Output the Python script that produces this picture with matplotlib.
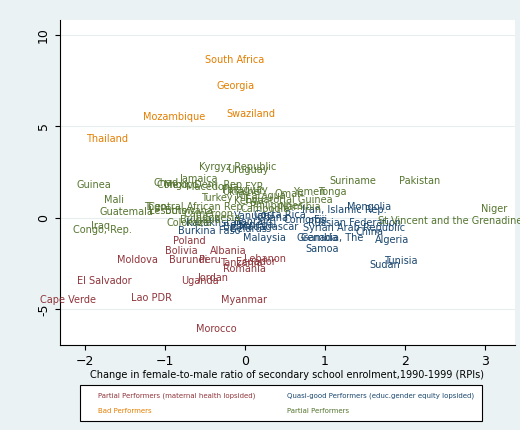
import matplotlib
matplotlib.use("Agg")
import matplotlib.pyplot as plt
from matplotlib.patches import Rectangle

bad_names = ["South Africa", "Georgia", "Swaziland", "Mozambique", "Thailand"]
bad_x = [-0.12, -0.12, 0.08, -0.88, -1.72]
bad_y = [8.6, 7.2, 5.7, 5.5, 4.3]

part_names = ["Kyrgyz Republic", "Uruguay", "Jamaica", "Chad", "Mexico", "Congo, Dem. Rep.", "Macedonia, FYR",
              "Guinea", "Mali", "Guatemala", "Togo", "Lesotho", "Central African Rep.", "Botswana", "Turkey",
              "Cameroon", "Indonesia", "Bulgaria", "Colombia", "Congo, Rep.", "Iraq", "Suriname", "Pakistan",
              "Tonga", "Niger", "St.Vincent and the Grenadines", "Oman", "Yemen", "Equatorial Guinea",
              "Philippines", "Paraguay", "Nicaragua", "Kenya", "Cambodia", "Namibia", "Ukraine"]
part_x = [-0.09, 0.04, -0.58, -0.98, -0.8, -0.55, -0.25,
          -1.88, -1.63, -1.48, -1.12, -0.95, -0.6, -0.7, -0.35,
          -0.45, -0.35, -0.55, -0.69, -1.78, -1.8, 1.35, 2.19,
          1.1, 3.12, 2.6, 0.55, 0.8, 0.55,
          0.4, 0.0, 0.2, 0.05, 0.25, 0.7, -0.05]
part_y = [2.8, 2.6, 2.1, 1.9, 1.8, 1.8, 1.7,
          1.8, 1.0, 0.3, 0.6, 0.4, 0.6, 0.35, 1.1,
          0.2, 0.0, -0.1, -0.3, -0.65, -0.45, 2.0, 2.0,
          1.4, 0.5, -0.15, 1.3, 1.4, 1.0,
          0.65, 1.5, 1.2, 0.9, 0.5, 0.6, 1.4]

quasi_names = ["Iran, Islamic Rep.", "Mongolia", "Costa Rica", "Vanuatu", "Comoros", "Fiji",
               "Russian Federation", "Syrian Arab Republic", "China", "Gambia, The", "Algeria",
               "Grenada", "Samoa", "Tunisia", "Sudan", "Malaysia", "Burkina Faso", "Kazakhstan",
               "Madagascar", "Benin", "Belarus", "Senegal", "Ghana", "Bahrain"]
quasi_x = [1.25, 1.56, 0.44, 0.12, 0.75, 0.95,
           1.37, 1.37, 1.56, 1.09, 1.84,
           0.91, 0.97, 1.95, 1.75, 0.25, -0.44, -0.38,
           0.3, -0.1, 0.05, 0.15, 0.35, 0.1]
quasi_y = [0.45, 0.6, 0.15, 0.1, -0.1, -0.1,
           -0.3, -0.55, -0.75, -1.1, -1.2,
           -1.1, -1.7, -2.35, -2.6, -1.1, -0.7, -0.3,
           -0.5, -0.5, -0.6, -0.4, 0.0, -0.2]

lop_names = ["Poland", "Bolivia", "Albania", "Moldova", "Burundi", "Peru", "Lebanon", "Tanzania",
             "Ecuador", "Romania", "Uganda", "Jordan", "El Salvador", "Cape Verde", "Lao PDR",
             "Myanmar", "Morocco"]
lop_x = [-0.69, -0.79, -0.2, -1.34, -0.71, -0.43, 0.26, -0.04,
         0.14, 0.0, -0.56, -0.4, -1.75, -2.21, -1.16,
         -0.01, -0.35]
lop_y = [-1.25, -1.8, -1.8, -2.3, -2.3, -2.3, -2.25, -2.45,
         -2.4, -2.8, -3.45, -3.3, -3.45, -4.5, -4.4,
         -4.5, -6.1]

c_lop, c_quasi, c_bad, c_part = "#90353b", "#1a476f", "#e37e00", "#55752f"

fig = plt.figure(figsize=(5.2, 4.3), dpi=100, facecolor="#eaf2f3")
ax = fig.add_axes([0.115, 0.198, 0.875, 0.755])
ax.set_facecolor("white")
groups = [(lop_names, lop_x, lop_y, c_lop), (quasi_names, quasi_x, quasi_y, c_quasi),
          (bad_names, bad_x, bad_y, c_bad), (part_names, part_x, part_y, c_part)]
for names, xs, ys, c in groups:
    for n, x, y in zip(names, xs, ys):
        ax.text(x, y, n, color=c, fontsize=7, ha="center", va="center")
ax.set_xlim(-2.31, 3.375)
ax.set_ylim(-6.94, 10.8)
ax.set_xticks([-2, -1, 0, 1, 2, 3])
ax.set_yticks([-5, 0, 5, 10])
ax.set_yticklabels(["-5", "0", "5", "10"], rotation=90, va="center")
ax.tick_params(labelsize=9)
ax.grid(axis="y", color="#e8eef0", lw=0.8)
ax.set_axisbelow(True)
for s in ["top", "right"]:
    ax.spines[s].set_visible(False)
ax.set_xlabel("Change in female-to-male ratio of secondary school enrolment,1990-1999 (RPIs)", fontsize=7, labelpad=2)

fig.patches.append(Rectangle((80/520, 1-421/430), 402/520, 36/430, transform=fig.transFigure,
                             facecolor="white", edgecolor="black", lw=0.8))
fig.text(98/520, 1-396/430, "Partial Performers (maternal health lopsided)", color=c_lop, fontsize=5, va="center")
fig.text(98/520, 1-411/430, "Bad Performers", color=c_bad, fontsize=5, va="center")
fig.text(287/520, 1-396/430, "Quasi-good Performers (educ.gender equity lopsided)", color=c_quasi, fontsize=5, va="center")
fig.text(287/520, 1-411/430, "Partial Performers", color=c_part, fontsize=5, va="center")
fig.savefig("out.png", facecolor=fig.get_facecolor())
